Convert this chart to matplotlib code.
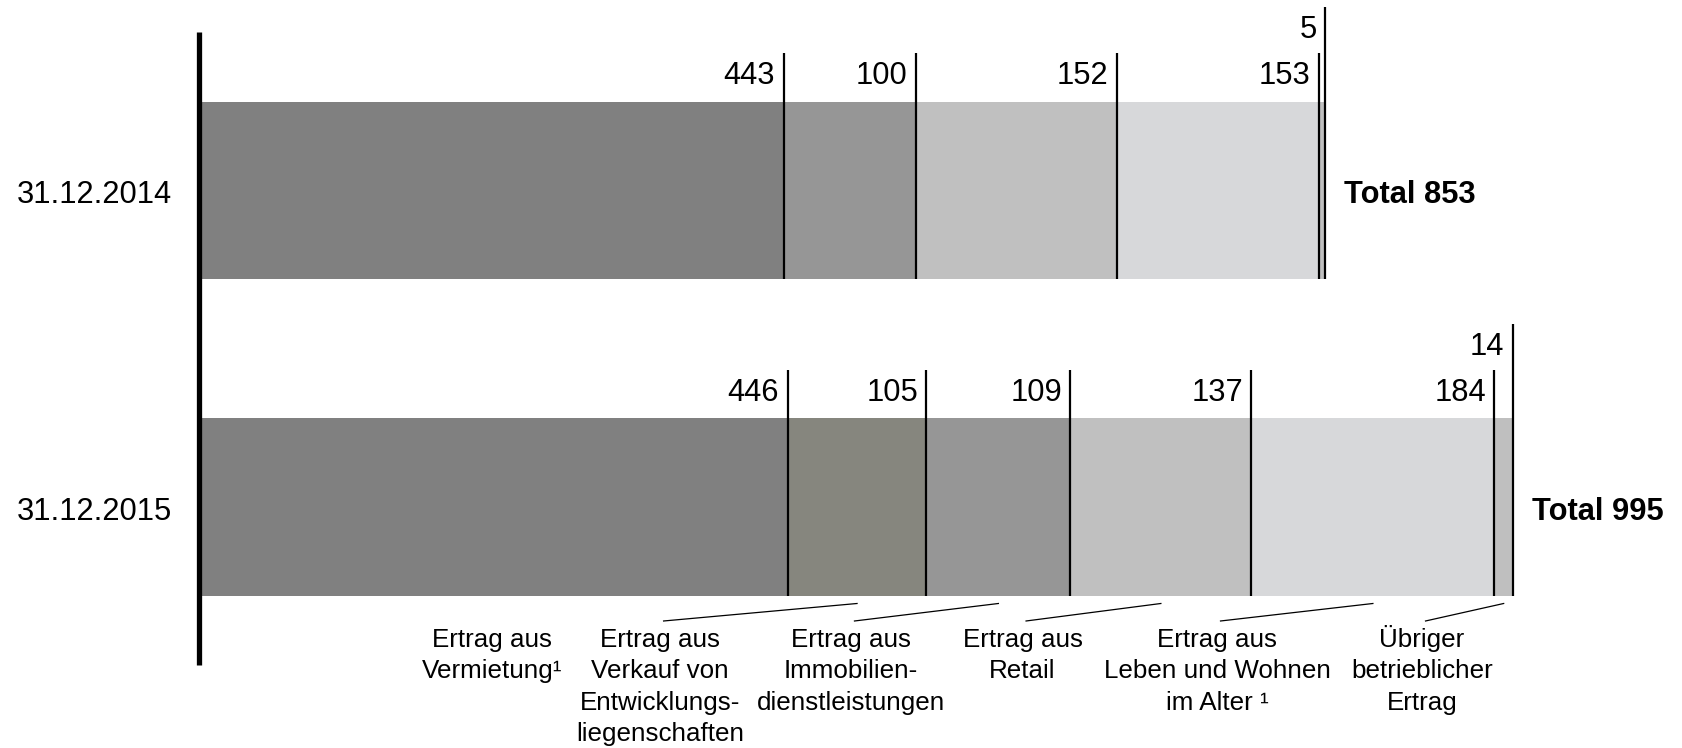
import matplotlib
matplotlib.use("Agg")
import matplotlib.pyplot as plt

# ---- data -------------------------------------------------------------
periods = ["31.12.2014", "31.12.2015"]
categories = [
    "Ertrag aus\nVermietung¹",
    "Ertrag aus\nVerkauf von\nEntwicklungs-\nliegenschaften",
    "Ertrag aus\nImmobilien-\ndienstleistungen",
    "Ertrag aus\nRetail",
    "Ertrag aus\nLeben und Wohnen\nim Alter ¹",
    "Übriger\nbetrieblicher\nErtrag",
]
values_2014 = [443, 0, 100, 152, 153, 5]
values_2015 = [446, 105, 109, 137, 184, 14]
colors = ["#808080", "#86867e", "#969696", "#c0c0c0", "#d7d8da", "#bfbfbf"]

# ---- layout -----------------------------------------------------------
plt.rcParams["font.family"] = ["Liberation Sans", "DejaVu Sans"]

DPI = 100
PT = 72.0 / DPI          # points per pixel
fig = plt.figure(figsize=(16.82, 7.48), dpi=DPI)
ax = fig.add_axes([0, 0, 1, 1])
ax.set_xlim(-150.3, 1123.0)
ax.set_ylim(1.7595, -0.6002)
ax.axis("off")

YS = 317.0               # pixels per bar slot
BAR_H = 177.5 / YS
BIG = 22.2
SMALL = 18.7

# caption centres for the category labels (x in value units)
label_x = [222.5, 349.4, 493.9, 623.8, 771.0, 926.2]
label_baseline = (647 - 190.25) / YS
line_step = 31.5 / YS
leader_low = (621 - 190.25) / YS
leader_high = (603.5 - 190.25) / YS

series = [values_2014, values_2015]
for i, vals in enumerate(series):
    left = 0
    segs = []
    for v, c in zip(vals, colors):
        if v == 0:
            continue
        ax.barh(i, v, left=left, height=BAR_H, color=c, linewidth=0)
        left += v
        segs.append((left, v))

    top = i - BAR_H / 2
    bottom = i + BAR_H / 2
    for k, (end, v) in enumerate(segs):
        last = k == len(segs) - 1
        rise = (94.7 if last else 48.5) / YS
        ax.plot([end, end], [bottom, top - rise], color="black", lw=1.6,
                solid_capstyle="butt")
        ax.annotate(str(v), xy=(end, top), xytext=(-8.5 * PT, (63.5 if last else 17.5) * PT),
                    textcoords="offset points", ha="right", va="baseline",
                    fontsize=BIG, color="black")

    ax.annotate(f"Total {left}", xy=(left, i), xytext=(19 * PT, -12.5 * PT),
                textcoords="offset points", ha="left", va="baseline",
                fontsize=BIG, fontweight="bold", color="black")
    ax.annotate(periods[i], xy=(0, i), xytext=(-27 * PT, -13 * PT),
                textcoords="offset points", ha="right", va="baseline",
                fontsize=BIG, color="black")

# value axis spine
ax.plot([0, 0], [(32 - 190.25) / YS, (665 - 190.25) / YS], color="black",
        lw=3.8, solid_capstyle="butt")

# category captions with leader lines to the 2015 segments
cum = 0
mids = []
for v in values_2015:
    mids.append(cum + v / 2)
    cum += v

for k, (txt, lx) in enumerate(zip(categories, label_x)):
    for j, line in enumerate(txt.split("\n")):
        ax.text(lx, label_baseline + j * line_step, line, ha="center",
                va="baseline", fontsize=SMALL, color="black")
    if k > 0:
        ax.plot([lx + 3.5 / 1.321, mids[k]], [leader_low, leader_high],
                color="black", lw=0.9)

fig.savefig("out.png", dpi=DPI)
